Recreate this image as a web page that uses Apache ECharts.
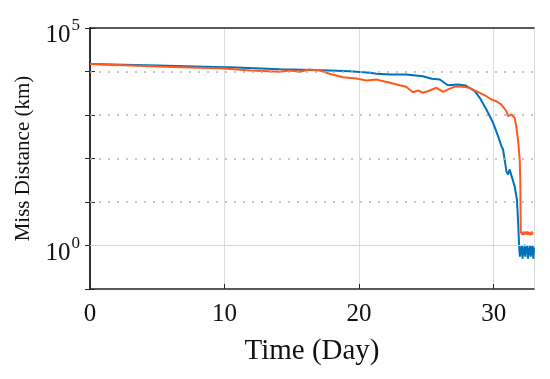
<!DOCTYPE html>
<html><head><meta charset="utf-8">
<script src="https://cdn.jsdelivr.net/npm/echarts@6/dist/echarts.min.js"></script>
<style>html,body{margin:0;padding:0;background:#fff}#c{width:550px;height:379px}</style>
</head><body><div id="c"></div>
<script>
// Blue series (time in days, miss distance in km)
const blueDays = [0, 5, 10, 10.4, 14.1, 15, 17.8, 19.3, 20.8, 21.3, 22.3, 23.5, 24.75, 25.4, 26.0, 26.6, 27.35, 27.9, 28.2, 28.6, 28.97, 29.46, 29.96, 30.33, 30.58, 30.7, 30.95, 31.07, 31.19, 31.32, 31.56, 31.73, 31.81, 31.9,
  31.95, 32.0, 32.05, 32.1, 32.15, 32.2, 32.25, 32.3, 32.35, 32.4, 32.45, 32.5, 32.55, 32.6, 32.65, 32.7, 32.75, 32.8, 32.85, 32.9, 32.95, 33.0];
const blueVals = [14870, 13740, 12560, 12500, 11300, 11120, 10540, 10160, 9330, 8850, 8530, 8530, 7800, 6790, 6550, 4840, 5030, 4770, 4220, 3520, 2480, 1340, 662, 326, 192, 161, 51, 43, 56, 41, 23, 11.4, 4, 0.9,
  0.55, 0.95, 0.6, 1.0, 0.5, 0.9, 0.6, 1.05, 0.55, 0.95, 0.65, 1.0, 0.5, 0.9, 0.6, 1.0, 0.55, 0.95, 0.6, 1.0, 0.5, 0.9];
// Orange series
const orangeDays = [0, 5, 10, 11.9, 14.1, 14.85, 15.6, 16.3, 17.1, 17.8, 18.8, 19.8, 20.55, 21.3, 21.5, 22.3, 22.8, 23.5, 24.0, 24.4, 24.75, 25.1, 25.75, 26.25, 26.7, 27.2, 27.7, 28.2, 28.97, 29.46, 29.83, 30.2, 30.58, 30.95, 31.07, 31.19, 31.32, 31.44, 31.56, 31.68, 31.81, 31.94, 31.98, 32.0, 32.02,
  32.07, 32.12, 32.17, 32.22, 32.27, 32.32, 32.37, 32.42, 32.47, 32.52, 32.57, 32.62, 32.67, 32.72, 32.77, 32.82, 32.87, 32.92, 32.97, 33.0];
const orangeVals = [14860, 13030, 11720, 10540, 9840, 10540, 9840, 11120, 10540, 8850, 7400, 6900, 6210, 6550, 6310, 5500, 5020, 4450, 3340, 3660, 3240, 3520, 4220, 3410, 4000, 4590, 4450, 4220, 3240, 2700, 2270, 2070, 1740, 1220, 940, 910, 1030, 1080, 860, 550, 270, 95, 33, 6.8, 2.0,
  1.8, 2.05, 1.75, 2.1, 1.8, 2.0, 1.75, 2.05, 1.8, 2.1, 1.75, 2.0, 1.8, 2.05, 1.75, 2.1, 1.8, 2.0, 1.8, 1.9];

const xTicks = [0, 10, 20, 30];
const yLabelExps = [0, 5];
const solidGrid = [1];
const dottedGrid = [10, 100, 1000, 10000];

const FONT = 'Liberation Serif';
const axisCol = '#262626';
const chart = echarts.init(document.getElementById('c'));
const zip = (a, b) => a.map((d, i) => [d, b[i]]);

chart.setOption({
  animation: false,
  textStyle: { fontFamily: FONT },
  grid: { left: 90, right: 16, top: 28, bottom: 90, containLabel: false },
  xAxis: [{
    type: 'value', min: 0, max: 33, interval: 10,
    name: 'Time (Day)', nameLocation: 'middle', nameGap: 48,
    nameTextStyle: { fontFamily: FONT, fontSize: 29, color: '#111' },
    axisLine: { show: true, lineStyle: { color: axisCol, width: 1.5 } },
    axisTick: { show: true, inside: true, length: 5, lineStyle: { color: axisCol } },
    axisLabel: { fontFamily: FONT, fontSize: 25, color: '#111', margin: 13, showMaxLabel: false,
      formatter: v => xTicks.includes(v) ? String(v) : '' },
    splitLine: { show: true, lineStyle: { color: '#dcdcdc', width: 1 } }
  }, {
    type: 'value', min: 0, max: 33, interval: 10, position: 'top',
    axisLine: { show: true, lineStyle: { color: axisCol, width: 1.5 } },
    axisTick: { show: false }, axisLabel: { show: false }, splitLine: { show: false }
  }],
  yAxis: [{
    type: 'log', logBase: 10, min: 0.1, max: 100000,
    name: 'Miss Distance (km)', nameLocation: 'middle', nameGap: 56,
    nameTextStyle: { fontFamily: FONT, fontSize: 21, color: '#111' },
    axisLine: { show: true, lineStyle: { color: axisCol, width: 1.5 } },
    axisTick: { show: true, inside: true, length: 5, lineStyle: { color: axisCol } },
    axisLabel: { fontFamily: FONT, fontSize: 25, color: '#111', margin: 10,
      formatter: v => { const e = Math.round(Math.log10(v)); return yLabelExps.includes(e) ? '{b|10}{s|' + e + '}' : ''; },
      rich: {
        b: { fontFamily: FONT, fontSize: 25, color: '#111', padding: [15, 0, 0, 0] },
        s: { fontFamily: FONT, fontSize: 17, color: '#111', padding: [0, 0, 4, 1] }
      } },
    splitLine: { show: false }
  }, {
    type: 'log', logBase: 10, min: 0.1, max: 100000, position: 'right',
    axisLine: { show: true, lineStyle: { color: axisCol, width: 1.5 } },
    axisTick: { show: true, inside: true, length: 5, lineStyle: { color: axisCol } },
    axisLabel: { show: false }, splitLine: { show: false }
  }],
  series: [{
    type: 'line', name: 'blue', data: zip(blueDays, blueVals), showSymbol: false,
    lineStyle: { color: '#0072BD', width: 2 }, itemStyle: { color: '#0072BD' },
    markLine: {
      silent: true, symbol: 'none', label: { show: false }, animation: false,
      data: solidGrid.map(v => ({ yAxis: v, lineStyle: { color: '#d4d4d4', type: 'solid', width: 1 } }))
        .concat(dottedGrid.map(v => ({ yAxis: v, lineStyle: { color: '#b4b4b4', type: [2, 7], width: 1.5 } })))
    },
    z: 2
  }, {
    type: 'line', name: 'orange', data: zip(orangeDays, orangeVals), showSymbol: false,
    lineStyle: { color: '#FF5A1E', width: 2 }, itemStyle: { color: '#FF5A1E' }, z: 3
  }]
});
</script></body></html>
